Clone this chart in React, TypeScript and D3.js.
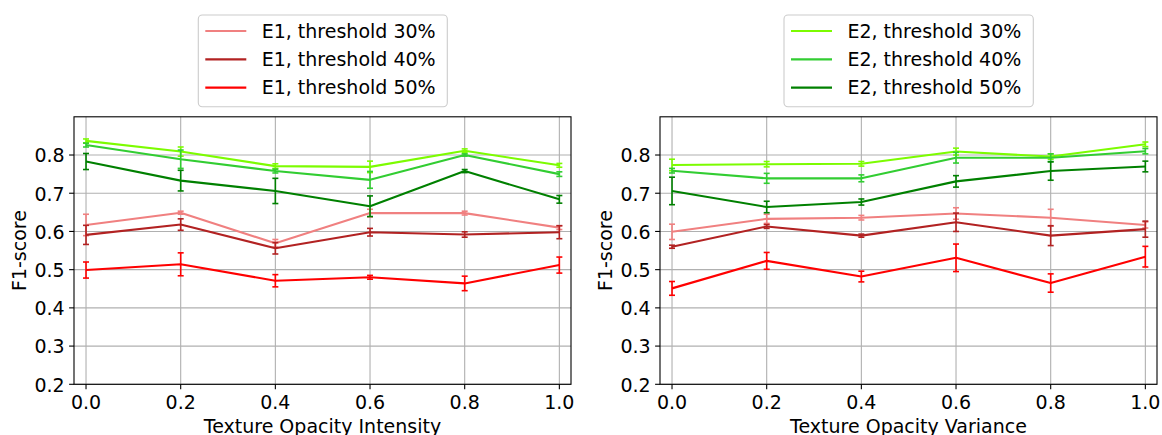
import React from "react";
import * as d3 from "d3";

const xValues = [0, 0.2, 0.4, 0.6, 0.8, 1.0];
const xTicks = [0, 0.2, 0.4, 0.6, 0.8, 1.0];
const yTicks = [0.2, 0.3, 0.4, 0.5, 0.6, 0.7, 0.8];

// Left panel: Texture Opacity Intensity
const e1t30I = [0.617, 0.649, 0.569, 0.648, 0.648, 0.61];
const e1t30IErr = [0.028, 0.004, 0.01, 0.01, 0.005, 0.005];
const e1t40I = [0.591, 0.618, 0.556, 0.598, 0.592, 0.598];
const e1t40IErr = [0.025, 0.015, 0.015, 0.01, 0.007, 0.017];
const e1t50I = [0.499, 0.514, 0.471, 0.48, 0.464, 0.512];
const e1t50IErr = [0.021, 0.03, 0.016, 0.005, 0.019, 0.021];
const e2t30I = [0.837, 0.809, 0.771, 0.769, 0.811, 0.773];
const e2t30IErr = [0.005, 0.012, 0.006, 0.015, 0.005, 0.005];
const e2t40I = [0.826, 0.789, 0.758, 0.735, 0.8, 0.75];
const e2t40IErr = [0.005, 0.024, 0.005, 0.022, 0.003, 0.006];
const e2t50I = [0.783, 0.733, 0.706, 0.666, 0.758, 0.684];
const e2t50IErr = [0.021, 0.027, 0.033, 0.027, 0.004, 0.01];

// Right panel: Texture Opacity Variance
const e1t30V = [0.599, 0.633, 0.636, 0.647, 0.636, 0.617];
const e1t30VErr = [0.02, 0.012, 0.006, 0.015, 0.022, 0.008];
const e1t40V = [0.56, 0.613, 0.589, 0.624, 0.589, 0.606];
const e1t40VErr = [0.004, 0.005, 0.004, 0.024, 0.026, 0.021];
const e1t50V = [0.451, 0.523, 0.482, 0.531, 0.465, 0.534];
const e1t50VErr = [0.018, 0.022, 0.014, 0.036, 0.024, 0.027];
const e2t30V = [0.774, 0.776, 0.777, 0.809, 0.796, 0.828];
const e2t30VErr = [0.015, 0.007, 0.006, 0.009, 0.007, 0.006];
const e2t40V = [0.759, 0.739, 0.739, 0.793, 0.793, 0.81];
const e2t40VErr = [0.006, 0.013, 0.009, 0.014, 0.01, 0.007];
const e2t50V = [0.706, 0.664, 0.677, 0.731, 0.758, 0.77];
const e2t50VErr = [0.036, 0.015, 0.008, 0.015, 0.024, 0.014];

const e1Labels = ["E1, threshold 30%", "E1, threshold 40%", "E1, threshold 50%"];
const e2Labels = ["E2, threshold 30%", "E2, threshold 40%", "E2, threshold 50%"];
const e1Colors = ["#f08080", "#b22222", "#ff0000"];
const e2Colors = ["#7cfc00", "#32cd32", "#008000"];

type Series = { values: number[]; errs: number[]; color: string };

const leftSeries: Series[] = [
  { values: e1t30I, errs: e1t30IErr, color: e1Colors[0] },
  { values: e1t40I, errs: e1t40IErr, color: e1Colors[1] },
  { values: e1t50I, errs: e1t50IErr, color: e1Colors[2] },
  { values: e2t30I, errs: e2t30IErr, color: e2Colors[0] },
  { values: e2t40I, errs: e2t40IErr, color: e2Colors[1] },
  { values: e2t50I, errs: e2t50IErr, color: e2Colors[2] },
];
const rightSeries: Series[] = [
  { values: e1t30V, errs: e1t30VErr, color: e1Colors[0] },
  { values: e1t40V, errs: e1t40VErr, color: e1Colors[1] },
  { values: e1t50V, errs: e1t50VErr, color: e1Colors[2] },
  { values: e2t30V, errs: e2t30VErr, color: e2Colors[0] },
  { values: e2t40V, errs: e2t40VErr, color: e2Colors[1] },
  { values: e2t50V, errs: e2t50VErr, color: e2Colors[2] },
];

const FONT = "DejaVu Sans, sans-serif";
const FS = 19;

function Panel(props: {
  x0: number;
  x1: number;
  series: Series[];
  xlabel: string;
  labels: string[];
  colors: string[];
  legendX: number;
  legendW: number;
}) {
  const { x0, x1, series, xlabel, labels, colors, legendX, legendW } = props;
  const top = 116.8;
  const bottom = 384.3;
  const x = d3.scaleLinear().domain([-0.0254, 1.0246]).range([x0, x1]);
  const y = d3.scaleLinear().domain([0.2, 0.9]).range([bottom, top]);
  const line = d3
    .line<number>()
    .x((_, i) => x(xValues[i]))
    .y((d) => y(d));
  const cx = (x0 + x1) / 2;
  const cy = (top + bottom) / 2;
  return (
    <g>
      {/* grid */}
      {xTicks.map((t) => (
        <line key={"gx" + t} x1={x(t)} x2={x(t)} y1={top} y2={bottom} stroke="#b0b0b0" strokeWidth={1.1} />
      ))}
      {yTicks.map((t) => (
        <line key={"gy" + t} x1={x0} x2={x1} y1={y(t)} y2={y(t)} stroke="#b0b0b0" strokeWidth={1.1} />
      ))}
      {/* series */}
      {series.map((s, si) => (
        <g key={"s" + si}>
          <path d={line(s.values) || ""} fill="none" stroke={s.color} strokeWidth={2.1} strokeLinejoin="round" />
          {s.values.map((v, i) => {
            const px = x(xValues[i]);
            const yt = y(v + s.errs[i]);
            const yb = y(v - s.errs[i]);
            return (
              <g key={i} stroke={s.color} strokeWidth={1.6}>
                <line x1={px} x2={px} y1={yt} y2={yb} />
                <line x1={px - 3} x2={px + 3} y1={yt} y2={yt} />
                <line x1={px - 3} x2={px + 3} y1={yb} y2={yb} />
              </g>
            );
          })}
        </g>
      ))}
      {/* spines */}
      <rect x={x0} y={top} width={x1 - x0} height={bottom - top} fill="none" stroke="#000" strokeWidth={1.1} />
      {/* ticks */}
      {xTicks.map((t) => (
        <g key={"tx" + t}>
          <line x1={x(t)} x2={x(t)} y1={bottom} y2={bottom + 4.9} stroke="#000" strokeWidth={1.1} />
          <text x={x(t)} y={408.6} textAnchor="middle" fontFamily={FONT} fontSize={FS} fill="#000">
            {t.toFixed(1)}
          </text>
        </g>
      ))}
      {yTicks.map((t) => (
        <g key={"ty" + t}>
          <line x1={x0 - 4.9} x2={x0} y1={y(t)} y2={y(t)} stroke="#000" strokeWidth={1.1} />
          <text x={x0 - 9.3} y={y(t) + 7.4} textAnchor="end" fontFamily={FONT} fontSize={FS} fill="#000">
            {t.toFixed(1)}
          </text>
        </g>
      ))}
      <text x={cx} y={432.5} textAnchor="middle" fontFamily={FONT} fontSize={FS} fill="#000">
        {xlabel}
      </text>
      <text
        transform={`translate(${x0 - 48.5},${cy}) rotate(-90)`}
        textAnchor="middle"
        fontFamily={FONT}
        fontSize={FS}
        fill="#000"
      >
        F1-score
      </text>
      {/* legend */}
      <rect x={legendX} y={15} width={legendW} height={91.7} rx={4} ry={4} fill="#fff" fillOpacity={0.8} stroke="#cccccc" strokeWidth={1.1} />
      {labels.map((l, i) => {
        const ry = 31 + i * 28.33;
        return (
          <g key={"lg" + i}>
            <line x1={legendX + 7} x2={legendX + 48} y1={ry} y2={ry} stroke={colors[i]} strokeWidth={2.1} />
            <text x={legendX + 63.4} y={ry + 6.6} fontFamily={FONT} fontSize={FS} fill="#000">
              {l}
            </text>
          </g>
        );
      })}
    </g>
  );
}

export default function App() {
  return (
    <svg
      width={1162}
      height={435}
      style={{ position: "absolute", left: 0, top: 0, background: "#fff" }}
    >
      <rect x={0} y={0} width={1162} height={435} fill="#fff" />
      <Panel
        x0={74}
        x1={571}
        series={leftSeries}
        xlabel="Texture Opacity Intensity"
        labels={e1Labels}
        colors={e1Colors}
        legendX={198.3}
        legendW={249}
      />
      <Panel
        x0={660}
        x1={1157}
        series={rightSeries}
        xlabel="Texture Opacity Variance"
        labels={e2Labels}
        colors={e2Colors}
        legendX={784}
        legendW={249.3}
      />
    </svg>
  );
}
